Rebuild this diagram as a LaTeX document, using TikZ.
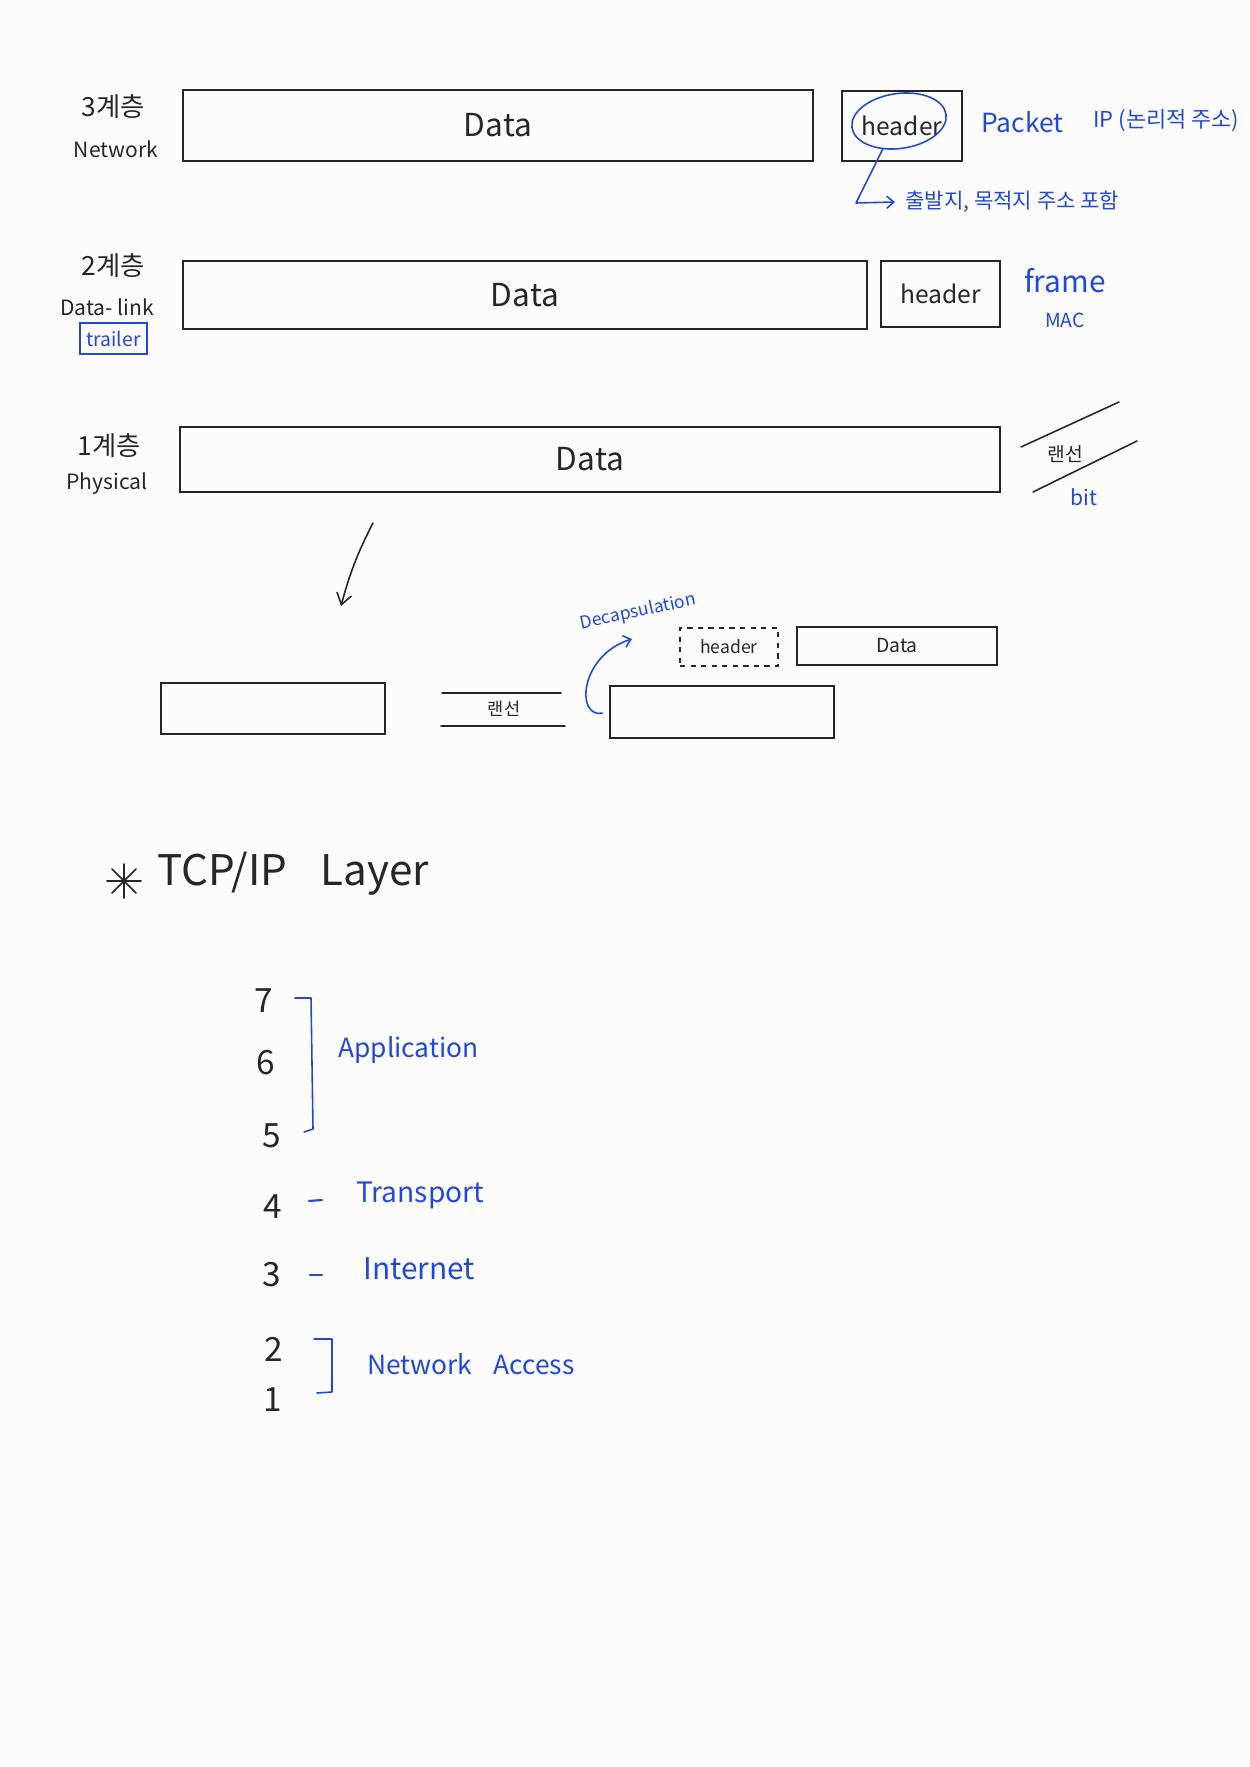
\documentclass[tikz,border=0pt]{standalone}
\usepackage{fontspec}
\setmainfont{Noto Sans CJK KR}
\usetikzlibrary{positioning,arrows.meta,shapes.geometric}
\definecolor{InkBlack}{RGB}{38,38,38}
\definecolor{PenBlue}{RGB}{33,72,214}
\definecolor{PaperWhite}{RGB}{252,252,252}

\begin{document}
\begin{tikzpicture}[
x=0.02cm,y=-0.02cm,
box/.style={rectangle,draw=InkBlack,line width=0.9pt,inner sep=0pt,text=InkBlack,
font=\fontsize{18}{20}\selectfont},
hdr/.style={box,font=\fontsize{14}{17}\selectfont},
tag/.style={text=InkBlack,inner sep=0pt,font=\fontsize{15}{17}\selectfont},
note/.style={text=PenBlue,inner sep=0pt,font=\fontsize{14}{16}\selectfont},
num/.style={tag,font=\fontsize{19}{21}\selectfont},
ink/.style={draw=InkBlack,line width=0.9pt,line cap=round},
pen/.style={draw=PenBlue,line width=0.9pt,line cap=round,line join=round}
]
\fill[PaperWhite] (0,0) rectangle (1250,1767);
\useasboundingbox (0,0) rectangle (1250,1767);

% 3계층
\node[tag] (l3) at (113,107) {3계층};
\node[tag,font=\fontsize{12}{14}\selectfont] (l3en) at (116,149) {Network};
\node[box,minimum width=12.6cm,minimum height=1.42cm] (data3) at (498,125.5) {Data};
\node[hdr,minimum width=2.4cm,minimum height=1.4cm] (hdr3) at (902,126) {header};
\node[ellipse,draw=PenBlue,line width=0.9pt,minimum width=1.9cm,minimum height=1.1cm,rotate=8] (ring) at (899,121) {};
\node[note,anchor=west,font=\fontsize{15}{17}\selectfont] (pkt) at (981,122) {Packet};
\node[note,anchor=west,font=\fontsize{12.5}{15}\selectfont] (ip) at (1093,121) {IP (논리적 주소)};
\node[note,anchor=west,font=\fontsize{12}{14}\selectfont] (addr) at (905,202) {출발지, 목적지 주소 포함};
\draw[pen,-{Straight Barb[length=1.4mm,width=2.4mm]}] (ring.232) -- (856,203) -- ([xshift=-2mm]addr.west);

% 2계층
\node[tag] (l2) at (113,266) {2계층};
\node[tag,font=\fontsize{12}{14}\selectfont] (l2en) at (107,307) {Data- link};
\node[note,draw=PenBlue,line width=0.9pt,minimum width=1.34cm,minimum height=0.62cm,
font=\fontsize{11}{12}\selectfont] (trl) at (113.5,338.5) {trailer};
\node[box,minimum width=13.68cm,minimum height=1.36cm] (data2) at (525,295) {Data};
\node[hdr,minimum width=2.38cm,minimum height=1.32cm] (hdr2) at (940.5,294) {header};
\node[note,font=\fontsize{17}{19}\selectfont] (frm) at (1065,281) {frame};
\node[note,font=\fontsize{11}{12}\selectfont] (mac) at (1065,320) {MAC};

% 1계층
\node[tag] (l1) at (109,446) {1계층};
\node[tag,font=\fontsize{12}{14}\selectfont] (l1en) at (107,484) {Physical};
\node[box,minimum width=16.4cm,minimum height=1.3cm] (data1) at (590,459.5) {Data};
\draw[ink] (1021,447) -- (1119,402);
\draw[ink] (1033,492) -- (1137,441);
\node[tag,font=\fontsize{11}{12}\selectfont] (lan1) at (1065,454) {랜선};
\node[note,font=\fontsize{12}{14}\selectfont] (bit) at (1084,497) {bit};

% 아래로
\coordinate (dn0) at (373,523);
\coordinate (dn1) at (341,606);
\draw[ink,-{Straight Barb[length=2.2mm,width=3mm]}] (dn0) to[bend right=6] (dn1);

% 랜선 연결
\node[box,minimum width=4.48cm,minimum height=1.02cm] (hostA) at (273,708.5) {};
\draw[ink] (442,693) -- (561,693);
\draw[ink] (441,726) -- (565,726);
\node[tag,font=\fontsize{10}{12}\selectfont] (lan2) at (504,709) {랜선};
\node[box,minimum width=4.48cm,minimum height=1.04cm] (hostB) at (722,712) {};
\node[hdr,dashed,minimum width=1.96cm,minimum height=0.76cm,font=\fontsize{10}{12}\selectfont] (hdrx) at (729,647) {header};
\node[box,minimum width=4cm,minimum height=0.76cm,font=\fontsize{11}{12}\selectfont] (datax) at (897,646) {Data};
\coordinate (decapend) at (632,639);
\draw[pen,-{Straight Barb[length=1.4mm,width=2.4mm]},shorten <=1.4mm] (hostB.west) .. controls (575,718) and (580,655) .. (decapend);
\node[note,rotate=12,font=\fontsize{10}{12}\selectfont] (decap) at (638,612) {Decapsulation};

% TCP/IP
\foreach \a in {0,45,90,135}
  \draw[ink] (124,881) ++(\a:17) -- ++({\a+180}:34);
\node[tag,anchor=west,font=\fontsize{24}{26}\selectfont] (tcpip) at (157,874) {TCP/IP\hspace{0.8em}Layer};

\node[num] (n7) at (264,1001) {7};
\node[num] (n6) at (266,1063) {6};
\node[num] (n5) at (272,1136) {5};
\node[num] (n4) at (273,1207) {4};
\node[num] (n3) at (272,1275) {3};
\node[num] (n2) at (274,1349) {2};
\node[num] (n1) at (273,1400) {1};

\draw[pen] (295,998) -- (311,998) -- (313,1129) -- (304,1132);
\node[note,anchor=west,font=\fontsize{15}{17}\selectfont] (app) at (338,1050) {Application};
\draw[pen,line width=1.2pt] (309,1201) -- (322,1200);
\node[note,anchor=west,font=\fontsize{16}{18}\selectfont] (trn) at (356,1195) {Transport};
\draw[pen,line width=1.2pt] (310,1275) -- (322,1275);
\node[note,anchor=west,font=\fontsize{17}{19}\selectfont] (inet) at (363,1269) {Internet};
\draw[pen] (314,1339) -- (332,1339) -- (332,1392) -- (317,1393);
\node[note,anchor=west,font=\fontsize{15}{17}\selectfont] (nacc) at (367,1364) {Network\hspace{0.8em}Access};
\end{tikzpicture}
\end{document}
